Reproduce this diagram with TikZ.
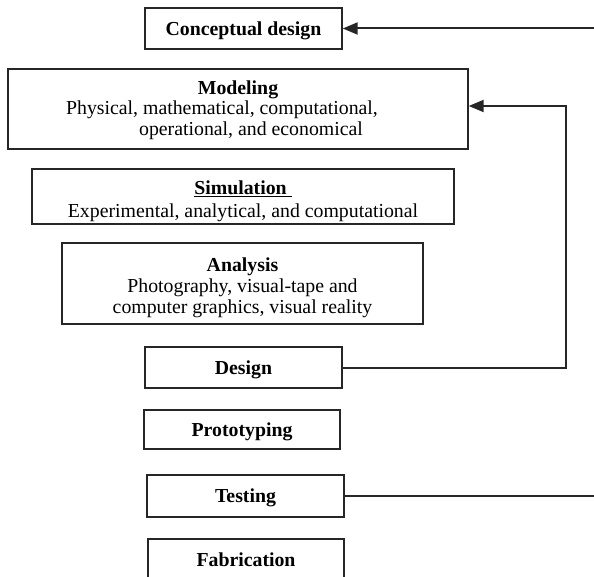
\documentclass[tikz,border=0pt]{standalone}
\usepackage{fontspec}
\setmainfont{Liberation Serif}
\usetikzlibrary{arrows.meta}

\begin{document}
\begin{tikzpicture}[x=1pt, y=-1pt,
  stage/.style={draw=black!85, line width=1.4pt, fill=white, align=center,
    inner sep=0pt, text depth=0pt, font=\fontsize{19.8}{20.5}\selectfont},
  feed/.style={draw=black!85, line width=2pt},
  feedarrow/.style={feed, -{Triangle[length=15pt, width=12pt]}}]
  \useasboundingbox (0,0) rectangle (594,577);

  % stacked stages of the process
  \node[stage, minimum width=197pt, minimum height=41pt] (concept) at (243.5,28.5)
    {\textbf{Conceptual design}};
  \node[stage, text depth=2pt, minimum width=460pt, minimum height=80pt] (modeling) at (238,109)
    {\textbf{Modeling}\\
     Physical, mathematical, computational,\hspace*{32pt}\null\\
     \hspace*{26pt}operational, and economical};
  \node[stage, line width=2.1pt, minimum width=422pt, minimum height=55pt,
    execute at begin node={\baselineskip=23.5pt}] (simulation) at (243,196.5)
    {\rule{0pt}{19.5pt}\underline{\textbf{Simulation}\ }\\
     Experimental, analytical, and computational};
  \node[stage, minimum width=361pt, minimum height=81pt,
    execute at begin node={\baselineskip=21pt}] (analysis) at (242.5,283.5)
    {\rule{0pt}{18.5pt}\textbf{Analysis}\\
     Photography, visual-tape and\\
     computer graphics, visual reality};
  \node[stage, minimum width=197pt, minimum height=41pt] (design) at (243.5,367.5)
    {\textbf{Design}};
  \node[stage, minimum width=196pt, minimum height=39pt] (proto) at (242,429.5)
    {\textbf{Prototyping}};
  \node[stage, minimum width=197pt, minimum height=42pt] (testing) at (245.5,496)
    {\textbf{Testing}};
  \node[stage, minimum width=196pt, minimum height=41pt] (fabrication) at (246,559.5)
    {\textbf{Fabrication}};

  % feedback loops
  \coordinate (conceptin) at (594,28.5);
  \coordinate (testout) at (594,496);
  \coordinate (loop) at (566,367.5);

  \draw[feedarrow] (conceptin) -- (concept.east);
  \draw[feed] (testing.east) -- (testout);
  \draw[feedarrow] (design.east) -- (loop) |- ([yshift=3pt]modeling.east);
\end{tikzpicture}
\end{document}
